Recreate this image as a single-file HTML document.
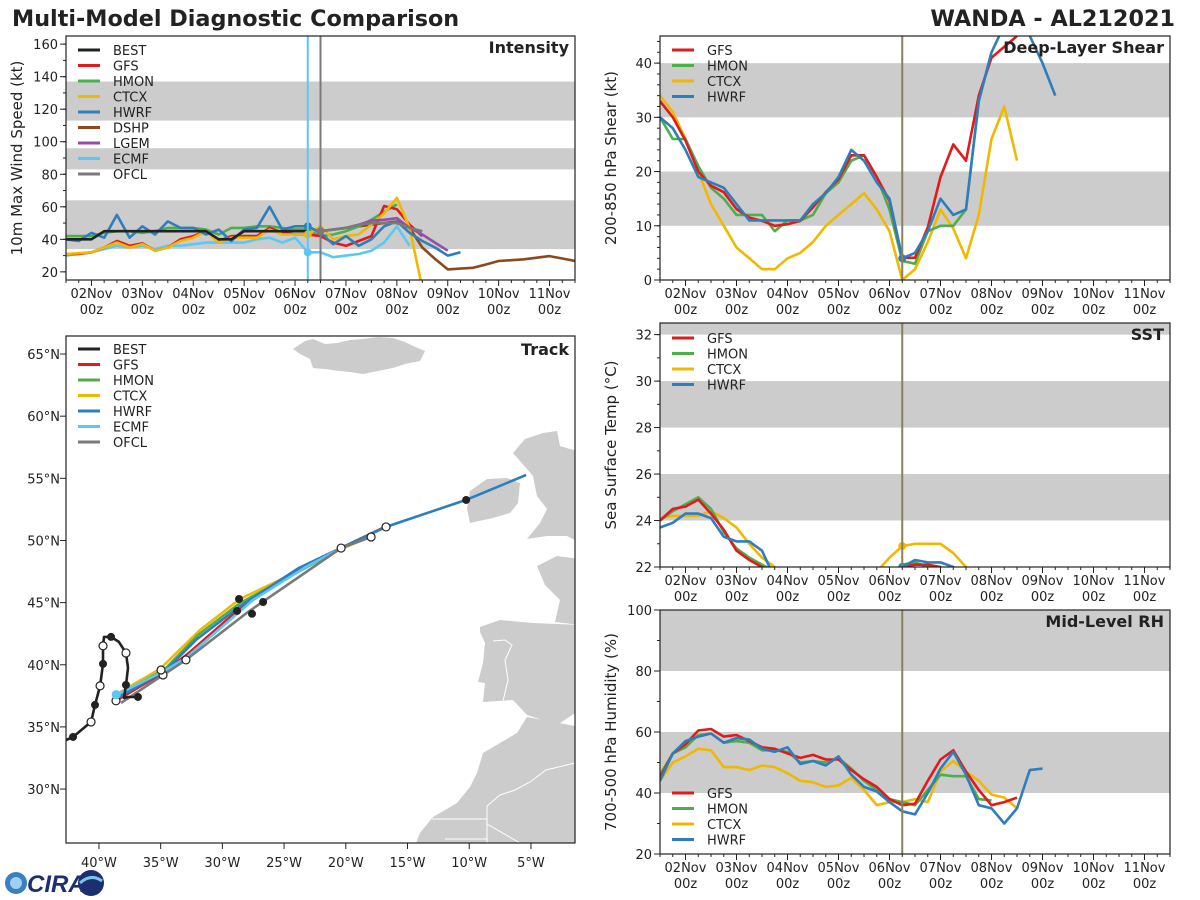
<!DOCTYPE html>
<html><head><meta charset="utf-8"><style>
html,body{margin:0;padding:0;background:#fff;}
svg{display:block;font-family:"DejaVu Sans","Liberation Sans",sans-serif;}
</style></head><body>
<svg id="fig" width="1200" height="900" viewBox="0 0 1200 900" xmlns="http://www.w3.org/2000/svg">
<rect width="1200" height="900" fill="#fff"/>
<text x="12" y="26" font-size="22.3" font-weight="bold" fill="#222">Multi-Model Diagnostic Comparison</text>
<text x="1175" y="26" font-size="22.3" font-weight="bold" fill="#222" text-anchor="end">WANDA - AL212021</text>
<g id="root"></g>
<g>
<circle cx="16" cy="883" r="11" fill="#3a7fc0"/><circle cx="16" cy="883" r="6" fill="#9fd0f0"/>
<text x="27" y="892" font-size="24" font-weight="bold" font-style="italic" fill="#1c2f6e" font-family="Liberation Sans, sans-serif">CIRA</text>
<circle cx="91" cy="883" r="13" fill="#1c2f6e"/><path d="M80 883 Q91 873 102 881" stroke="#7cc4ee" stroke-width="3" fill="none"/>
</g>
</svg>
<script>
// ---------- data ----------
const intBEST=[40,40,40,45,45,45,45,45,45,45,45,45,40,40,45,45,45,45,45,45];
const intGFS=[31,31,32,35,39,36,37.5,33,35,40,42,45,39,42,42,42,47,44,43,43,42,38,36,39,42,60.5,58.5,49,42];
const intHMON=[42,42,42,44,45,45,44,45,47,47,47,46,43,47,47,48,48,47,46,46,42,43,45,48,52,57,61.5];
const intCTCX=[31,31.5,32,35,38,35,37,33,35,39,41,45,38,41,41,41,46,43,43,43,48,40,42,43,49,56,65.5,47,10];
const intHWRF=[40,39,44,41,55,41,48,43,51,47,47,43,46,39,46,47,60,46,48,48,44,37,42,36,40,48,51,44,39,35,30,32];
const intDSHP=[45,46,47,48,49,50,51,47,35,28,21.5,22,22.5,24.5,26.7,27.2,27.7,28.7,29.7,28.2,26.7];
const intLGEM=[45,46,47,49,51.5,52,53,47,43,38,33];
const intECMF=[30,31,32,34,36,35,36,34,36,36,37,38,38,38,38,40,41,38,41,32,32,29,30,31,33,38,48,36];
const intOFCL=[45,46,47,49,50,50,50,47,45];
const shrGFS=[33,30,25.7,20,17.4,16.2,13.1,11.5,10.9,10,10.3,10.9,13.4,16.2,18.6,23,23,19,14.6,4.1,4.1,9.7,19,25,22,34,41,43,45];
const shrHMON=[30,26,26,21,17,15,12,12,12,9,11,11,12,16,18,22,23,19,13,3.5,3,9,10,10,13,33,42];
const shrCTCX=[34,31,26,20,14,10,6,4,2,2,4,5,7,10,12,14,16,13,9,0,2,7,13,9.5,4,12,26,32,22];
const shrHWRF=[30,28,24,19,18,17,14,11,11,11,11,11,14,16,19,24,22,18,15,4,5,9,15,12,13,33,42,47,48,45,40,34];
const sstGFS=[24,24.5,24.6,24.9,24.3,23.6,22.7,22.3,22.0,21,21,21,21,21,21,21,21,21,21,22.0,22.1,22.1,22.0,21,21];
const sstHMON=[24.0,24.4,24.7,25.0,24.5,23.5,22.8,22.4,22.1,21.8,21,21,21,21,21,21,21,21,21,22.1,22.2,22.0,21.5];
const sstCTCX=[24.1,24.2,24.2,24.2,24.4,24.1,23.7,23.0,22.4,22.0,21.5,21,21,21,21,21,21,21.8,22.4,22.9,23.0,23.0,23.0,22.6,22.0,21.5];
const sstHWRF=[23.7,23.9,24.3,24.3,24.1,23.3,23.1,23.1,22.7,21.5,21,21,21,21,21,21,21,21,21,22.0,22.3,22.2,22.2,22.0,21.5];
const rhGFS=[45,53,56,60.5,61,58.5,59,57,55,54.5,53,51.5,52.5,51,51,47.5,44.5,42,38,36,36.5,44,51,54,47,41,36,37,38.5];
const rhHMON=[46,53,55,59,59.5,56.5,57,56.5,54,54,53.5,50,50.5,50,51.5,48,44,41,38,37,36,41,46,45.5,45.5,38,37.5];
const rhCTCX=[44,50,52,54.5,54,48.5,48.5,47.5,49,48.5,46.5,44,43.5,42,42.5,45,41,36,37,37,38,37,47,50.5,47,44,39.5,38.5,35];
const rhHWRF=[44,53,57,58.5,59.5,56.5,58,57.5,54.5,53.5,55,49.5,50.5,49,52,46,42,40.5,37,34,33,40,48,53.5,46,36,35,30,35,47.5,48];
const dayLabels=["02Nov","03Nov","04Nov","05Nov","06Nov","07Nov","08Nov","09Nov","10Nov","11Nov"];
// track (lon, lat)
const bestLon=[-42.67,-42.10,-40.64,-40.32,-39.91,-39.67,-39.67,-39.59,-39.02,-38.38,-37.81,-37.65,-37.81,-37.97,-37.65,-36.84];
const bestLat=[33.95,34.19,35.40,36.77,38.30,40.07,41.52,42.24,42.24,41.84,40.95,39.75,38.38,37.33,37.41,37.41];
const hwrfLon=[-38.37,-34.56,-32.14,-28.65,-23.79,-20.22,-16.74,-10.25,-5.39];
const hwrfLat=[37.41,39.58,42.0,44.65,47.79,49.48,51.09,53.26,55.27];
const gfsLon=[-38.37,-34.57,-32.62,-28.81,-23.87,-20.22,-17.87,-16.66];
const gfsLat=[37.25,39.50,41.03,44.33,47.71,49.48,50.60,51.17];
const ctcxLon=[-38.54,-35.05,-31.81,-28.57,-24.52,-20.22,-17.87];
const ctcxLat=[37.65,39.66,42.80,45.29,47.22,49.39,50.36];
const hmonLon=[-38.54,-34.65,-31.97,-28.57,-23.71,-20.22];
const hmonLat=[37.49,39.66,42.40,44.97,47.54,49.48];
const ecmfLon=[-38.62,-34.57,-32.95,-27.52,-23.22,-20.22];
const ecmfLat=[37.57,39.58,40.55,45.21,47.87,49.48];
const ofclLon=[-38.21,-34.81,-32.95,-27.92,-20.38,-17.95];
const ofclLat=[36.93,39.18,40.39,44.25,49.39,50.28];
const dotLon=[-42.10,-40.32,-39.67,-39.02,-37.81,-36.84,-10.25,-28.81,-28.65,-26.70,-27.60];
const dotLat=[34.19,36.77,40.07,42.24,38.38,37.41,53.26,44.33,45.29,45.05,44.10];
const openLon=[-40.64,-39.91,-39.67,-37.81,-34.81,-32.95,-20.38,-17.95,-16.74,-34.97,-38.62];
const openLat=[35.40,38.30,41.52,40.95,39.18,40.39,49.39,50.28,51.09,39.58,37.10];

const C={BEST:"#222",GFS:"#e31a1c",HMON:"#4daf4a",CTCX:"#f0b800",HWRF:"#2f7ebc",DSHP:"#8b4a1c",LGEM:"#984ea3",ECMF:"#5ac8f5",OFCL:"#7a7a7a"};
const NS="http://www.w3.org/2000/svg";
const root=document.getElementById('root');
function mk(tag,attrs,parent){const e=document.createElementNS(NS,tag);for(const k in attrs)e.setAttribute(k,attrs[k]);(parent||root).appendChild(e);return e;}
function txt(s,attrs,parent){const e=mk('text',attrs,parent);e.textContent=s;return e;}

function panel(name,x0,x1,y0,y1,min,max,bands,major,minor,ylabel,title){
  const p={x0,x1,y0,y1,min,max};
  const g=mk('g',{});
  
  
  p.g=g;
  const ty=v=>y1-(v-min)/(max-min)*(y1-y0);
  p.ty=ty; p.tx=d=>x0+(d+0.5)/10*(x1-x0);
  bands.forEach(b=>{const r=mk('rect',{x:x0,y:ty(Math.min(b[1],max)),width:x1-x0,height:ty(b[0])-ty(Math.min(b[1],max)),fill:"#cccccc"},g);
    
    });
  const cid='clip-'+name;
  const cp=mk('clipPath',{id:cid},g);mk('rect',{x:x0,y:y0,width:x1-x0,height:y1-y0},cp);
  p.clip='url(#'+cid+')';
  for(let v=Math.ceil(min/minor)*minor;v<=max+1e-9;v+=minor){mk('line',{x1:x0,x2:x0-3,y1:ty(v),y2:ty(v),stroke:"#222","stroke-width":1},g);}
  for(let v=Math.ceil(min/major)*major;v<=max+1e-9;v+=major){
    mk('line',{x1:x0,x2:x0-6,y1:ty(v),y2:ty(v),stroke:"#222","stroke-width":1},g);
    const t=txt(String(v),{x:x0-8,y:ty(v)+5,"font-size":13,"text-anchor":"end",fill:"#222"},g);
    
    
  }
  for(let i=-2;i<=38;i++){const d=i*0.25;const x=p.tx(d);if(x<x0-0.1||x>x1+0.1)continue;
    const maj=(i%4===0);mk('line',{x1:x,x2:x,y1:y1,y2:y1+(maj?6:3),stroke:"#222","stroke-width":1},g);}
  dayLabels.forEach((s,i)=>{const x=p.tx(i);
    const a=txt(s,{x:x,y:y1+18,"font-size":13,"text-anchor":"middle",fill:"#222"},g);
    
    
    const b=txt("00z",{x:x,y:y1+34,"font-size":13,"text-anchor":"middle",fill:"#222"},g);
    
    });
  const yl=txt(ylabel,{x:0,y:0,"font-size":15,"text-anchor":"middle",fill:"#222",transform:`translate(${x0-44},${(y0+y1)/2}) rotate(-90)`},g);
  
  
  p.lineG=mk('g',{"clip-path":p.clip},g);
  p.frame=()=>{mk('rect',{x:x0,y:y0,width:x1-x0,height:y1-y0,fill:"none",stroke:"#222","stroke-width":1.2},g);
    const tt=txt(title,{x:x1-6,y:y0+17,"font-size":16,"font-weight":"bold","text-anchor":"end",fill:"#222"},g);
    
    };
  return p;
}
function series(p,vals,start,color,name){
  const pts=vals.map((v,i)=>p.tx(start+i*0.25).toFixed(1)+','+p.ty(v).toFixed(1)).join(' ');
  const l=mk('polyline',{points:pts,fill:"none",stroke:color,"stroke-width":2.6,"stroke-linejoin":"round"},p.lineG);
  
  
}
function dot(p,d,v,color){const c=mk('circle',{cx:p.tx(d),cy:p.ty(v),r:4,fill:color},p.lineG);
  
  }
function vline(p,d,color){const l=mk('line',{x1:p.tx(d),x2:p.tx(d),y1:p.y0,y2:p.y1,stroke:color,"stroke-width":2},p.g);
  
  }
function legend(g,x,y,names,step){names.forEach((n,i)=>{const yy=y+i*step;
  const e=mk('g',{},g);
  
  
  mk('line',{x1:x,x2:x+22,y1:yy,y2:yy,stroke:C[n],"stroke-width":3},e);
  txt(n,{x:x+35,y:yy+5,"font-size":13,fill:"#222"},e);});}

// Intensity
const P1=panel('intensity-panel',66,575,36,280,15,165,[[34,64],[83,96],[113,137]],20,10,'10m Max Wind Speed (kt)','Intensity');
vline(P1,4.25,"#5ac8f5");vline(P1,4.5,"#7a7a7a");
series(P1,intDSHP,4.5,C.DSHP,'dshp-line');
series(P1,intECMF,-0.5,C.ECMF,'ecmf-line');
series(P1,intHMON,-0.5,C.HMON,'hmon-line');
series(P1,intGFS,-0.5,C.GFS,'gfs-line');
series(P1,intCTCX,-0.5,C.CTCX,'ctcx-line');
series(P1,intHWRF,-0.5,C.HWRF,'hwrf-line');
series(P1,intLGEM,4.5,C.LGEM,'lgem-line');
series(P1,intBEST,-0.5,C.BEST,'best-line');
series(P1,intOFCL,4.5,C.OFCL,'ofcl-line');
dot(P1,4.25,intHWRF[19],C.HWRF);dot(P1,4.25,intCTCX[19],C.CTCX);dot(P1,4.25,intECMF[19],C.ECMF);dot(P1,4.5,intOFCL[0],C.OFCL);
P1.frame();legend(P1.g,78,50,["BEST","GFS","HMON","CTCX","HWRF","DSHP","LGEM","ECMF","OFCL"],15.5);

// Shear
const P2=panel('shear-panel',660,1170,36,280,0,45,[[10,20],[30,40]],10,2,'200-850 hPa Shear (kt)','Deep-Layer Shear');
vline(P2,4.25,"#8a8060");
series(P2,shrCTCX,-0.5,C.CTCX,'ctcx-shear-line');
series(P2,shrHMON,-0.5,C.HMON,'hmon-shear-line');
series(P2,shrGFS,-0.5,C.GFS,'gfs-shear-line');
series(P2,shrHWRF,-0.5,C.HWRF,'hwrf-shear-line');
dot(P2,4.25,shrHWRF[19],C.HWRF);
P2.frame();legend(P2.g,672,50,["GFS","HMON","CTCX","HWRF"],15.5);

// SST
const P3=panel('sst-panel',660,1170,323,567,22,32.5,[[24,26],[28,30],[32,34]],2,1,'Sea Surface Temp (°C)','SST');
vline(P3,4.25,"#8a8060");
series(P3,sstCTCX,-0.5,C.CTCX,'ctcx-sst-line');
series(P3,sstHMON,-0.5,C.HMON,'hmon-sst-line');
series(P3,sstGFS,-0.5,C.GFS,'gfs-sst-line');
series(P3,sstHWRF,-0.5,C.HWRF,'hwrf-sst-line');
dot(P3,4.25,sstHWRF[19],C.HWRF);dot(P3,4.25,sstCTCX[19],C.CTCX);
P3.frame();legend(P3.g,672,338,["GFS","HMON","CTCX","HWRF"],15.5);

// RH
const P4=panel('rh-panel',660,1170,610,854,20,100,[[40,60],[80,100]],20,10,'700-500 hPa Humidity (%)','Mid-Level RH');
vline(P4,4.25,"#8a8060");
series(P4,rhCTCX,-0.5,C.CTCX,'ctcx-rh-line');
series(P4,rhHMON,-0.5,C.HMON,'hmon-rh-line');
series(P4,rhGFS,-0.5,C.GFS,'gfs-rh-line');
series(P4,rhHWRF,-0.5,C.HWRF,'hwrf-rh-line');
P4.frame();legend(P4.g,672,793,["GFS","HMON","CTCX","HWRF"],15.5);

// Track map
const M={x0:66,x1:575,y0:336,y1:843,lon0:-42.67,lon1:-1.43,lat0:25.66,lat1:66.45};
const mx=lon=>M.x0+(lon-M.lon0)/(M.lon1-M.lon0)*(M.x1-M.x0);
const my=lat=>M.y1-(lat-M.lat0)/(M.lat1-M.lat0)*(M.y1-M.y0);
const mg=mk('g',{});


const mcp=mk('clipPath',{id:'clip-map'},mg);mk('rect',{x:M.x0,y:M.y0,width:M.x1-M.x0,height:M.y1-M.y0},mcp);
const land=mk('g',{"clip-path":"url(#clip-map)",fill:"#cccccc"},mg);


["293,349 305,341 313,339 325,344 337,343 350,340 363,339 378,337 393,338 405,342 413,346 425,351 420,361 405,364 393,368 378,371 363,374 350,372 340,371 325,369 313,368 310,359 300,354",
 "470,491 487,479 507,478 520,483 518,503 510,513 493,518 470,523 467,509",
 "525,439 543,433 557,431 560,446 570,449 580,451 580,543 567,536 547,536 527,539 540,523 547,509 537,496 533,476 527,469 513,453",
 "537,566 557,556 580,559 580,625 555,622 560,600 545,585",
 "480,627 500,620 533,623 580,625 580,710 557,725 527,715 513,700 483,702 485,683 478,682 483,663 485,643 480,632",
 "580,727 527,717 517,733 500,743 483,753 477,773 470,787 457,803 433,817 420,833 413,850 580,850"
].forEach(s=>mk('polygon',{points:s},land));
mk('polyline',{points:"493,641 505,640 512,645 505,660 508,680 503,701",fill:"none",stroke:"#fff","stroke-width":1},land);
mk('polyline',{points:"432,819 487,819",fill:"none",stroke:"#fff","stroke-width":1},land);
mk('polyline',{points:"487,806 487,843",fill:"none",stroke:"#fff","stroke-width":1},land);
mk('polyline',{points:"487,824 520,843",fill:"none",stroke:"#fff","stroke-width":1},land);
mk('polyline',{points:"445,839 487,839",fill:"none",stroke:"#fff","stroke-width":1},land);
mk('polyline',{points:"487,806 500,795 515,790 530,782 546,770 575,763",fill:"none",stroke:"#fff","stroke-width":1},land);
const trk=mk('g',{"clip-path":"url(#clip-map)",fill:"none","stroke-width":2.6,"stroke-linejoin":"round"},mg);
function track(lons,lats,color,name){const pts=lons.map((l,i)=>mx(l).toFixed(1)+','+my(lats[i]).toFixed(1)).join(' ');
  const e=mk('polyline',{points:pts,stroke:color},trk);
  
  }
track(ctcxLon,ctcxLat,C.CTCX,'ctcx-track');
track(hmonLon,hmonLat,C.HMON,'hmon-track');
track(gfsLon,gfsLat,C.GFS,'gfs-track');
track(hwrfLon,hwrfLat,C.HWRF,'hwrf-track');
track(ecmfLon,ecmfLat,C.ECMF,'ecmf-track');
track(ofclLon,ofclLat,C.OFCL,'ofcl-track');
track(bestLon,bestLat,C.BEST,'best-track');
dotLon.forEach((l,i)=>{const c=mk('circle',{cx:mx(l),cy:my(dotLat[i]),r:4,fill:"#222"},trk);
  
  });
openLon.forEach((l,i)=>{const c=mk('circle',{cx:mx(l),cy:my(openLat[i]),r:4,fill:"#fff",stroke:"#222","stroke-width":1.2},trk);
  
  });
mk('circle',{cx:mx(-38.6),cy:my(37.6),r:4.5,fill:C.ECMF},trk);
for(let lon=-40;lon<=-5;lon+=5){const x=mx(lon);mk('line',{x1:x,x2:x,y1:M.y1,y2:M.y1+6,stroke:"#222"},mg);
  const t=txt(Math.abs(lon)+"°W",{x:x,y:M.y1+24,"font-size":13,"text-anchor":"middle",fill:"#222"},mg);
  
  }
for(let lat=30;lat<=65;lat+=5){const y=my(lat);mk('line',{x1:M.x0,x2:M.x0-6,y1:y,y2:y,stroke:"#222"},mg);
  const t=txt(lat+"°N",{x:M.x0-6,y:y+5,"font-size":13,"text-anchor":"end",fill:"#222"},mg);
  
  }
mk('rect',{x:M.x0,y:M.y0,width:M.x1-M.x0,height:M.y1-M.y0,fill:"none",stroke:"#222","stroke-width":1.2},mg);
const mt=txt("Track",{x:M.x1-6,y:M.y0+19,"font-size":16,"font-weight":"bold","text-anchor":"end",fill:"#222"},mg);


legend(mg,78,349,["BEST","GFS","HMON","CTCX","HWRF","ECMF","OFCL"],15.5);
</script>
</body></html>
